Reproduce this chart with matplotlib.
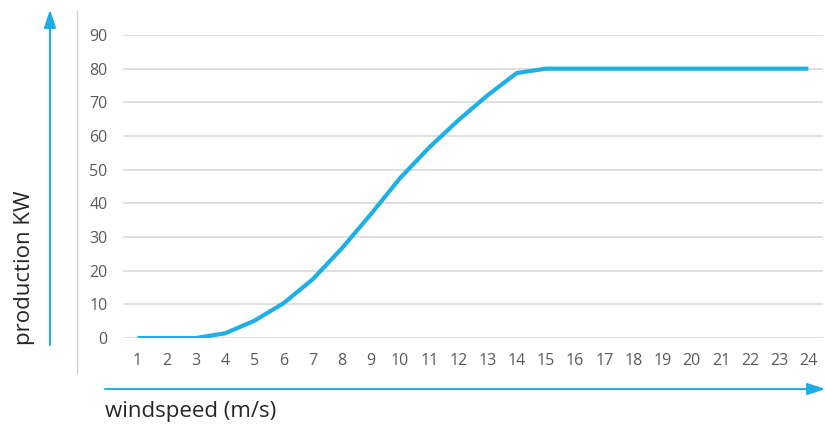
import matplotlib
matplotlib.use("Agg")
import matplotlib.pyplot as plt
from matplotlib.lines import Line2D

windspeed = list(range(1, 25))
production = [0, 0, 0, 1.4, 5.1, 10.3, 17.4, 26.6, 36.8, 47.5, 56.6, 64.7, 72.1, 78.7, 80,
              80, 80, 80, 80, 80, 80, 80, 80, 80]
yticks = [0, 10, 20, 30, 40, 50, 60, 70, 80, 90]

plt.rcParams['font.family'] = ['Open Sans', 'DejaVu Sans']

W, H = 825, 425
fig = plt.figure(figsize=(W / 100, H / 100), dpi=100)

def fx(px):
    return px / W

def fy(py):
    return 1 - py / H

ax = fig.add_axes([fx(123), fy(338), fx(823) - fx(123), fy(35) - fy(338)])
ax.plot(windspeed, production, color='#1cb0e6', lw=3.0, solid_capstyle='butt', zorder=3)
ax.set_xlim(0.5, 24.5)
ax.set_ylim(0, 90)
ax.set_yticks(yticks)
ax.set_xticks(windspeed)
ax.set_xticklabels([str(v) for v in windspeed])
for s in ax.spines.values():
    s.set_visible(False)
ax.grid(axis='y', color='#d9d9d9', lw=1.2, zorder=0)
ax.set_axisbelow(True)
ax.tick_params(axis='both', length=0, labelsize=11.5, colors='#595959')
ax.tick_params(axis='y', pad=11)
ax.tick_params(axis='x', pad=11)

# grey vertical line
fig.add_artist(Line2D([fx(76.5), fx(76.5)], [fy(11), fy(373)], color='#d0d0d0', lw=1.0))

blue = '#1aaee5'
head = '-|>,head_length=1.1,head_width=0.36'
# vertical arrow
fig.add_artist(plt.annotate('', xy=(fx(50), fy(10)), xytext=(fx(50), fy(345)),
                            xycoords='figure fraction', textcoords='figure fraction',
                            arrowprops=dict(arrowstyle=head, color=blue, lw=1.2,
                                            shrinkA=0, shrinkB=0)))
# horizontal arrow
fig.add_artist(plt.annotate('', xy=(fx(825), fy(389)), xytext=(fx(105), fy(389)),
                            xycoords='figure fraction', textcoords='figure fraction',
                            arrowprops=dict(arrowstyle=head, color=blue, lw=1.2,
                                            shrinkA=0, shrinkB=0)))

fig.text(fx(105), fy(412), 'windspeed (m/s)', fontsize=16, color='#262626',
         ha='left', va='center')
fig.text(fx(25), fy(268), 'production KW', fontsize=16, color='#262626',
         ha='center', va='center', rotation=90)

fig.savefig('out.png', dpi=100)
